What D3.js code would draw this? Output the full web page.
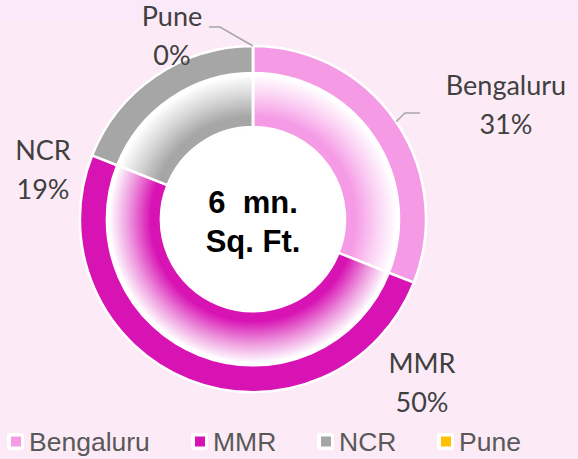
<!DOCTYPE html>
<meta charset="utf-8">
<style>
  body { margin: 0; background: #fcebf6; }
  svg { display: block; }
  .lbl { font: 27px Lato, "Open Sans", sans-serif; fill: #404040; text-anchor: middle; }
  .legend text { font: 26.5px "Liberation Sans", Arial, sans-serif; fill: #595959; }
  .center { font: bold 31px "Liberation Sans", Arial, sans-serif; fill: #000; text-anchor: middle; white-space: pre; }
</style>
<svg width="578" height="459"></svg>
<script src="https://cdn.jsdelivr.net/npm/d3@7"></script>
<script>
  // chart data
  var cities = ["Bengaluru", "MMR", "NCR", "Pune"];
  var shares = [31, 50, 19, 0];
  var colors = ["#f59be6", "#d813b4", "#a6a6a6", "#ffc000"];
  var centerLines = ["6  mn.", "Sq. Ft."];

  var svg = d3.select("svg"),
    width = +svg.attr("width"),
    height = +svg.attr("height");

  svg.append("rect").attr("width", width).attr("height", height).attr("fill", "#fcebf6");
  svg.append("rect").attr("width", width).attr("height", 20).attr("fill", "#fae9f8");

  var cx = 253, cy = 219;
  var outerR = 173, outerIn = 146, innerR = 144, innerIn = 92;

  var data = cities.map(function (c, i) { return { name: c, value: shares[i], color: colors[i] }; });

  var pie = d3.pie().sort(null).value(function (d) { return d.value; });
  var arcs = pie(data);

  var color = d3.scaleOrdinal().domain(cities).range(colors);

  var defs = svg.append("defs");
  data.forEach(function (d, i) {
    var grad = defs.append("radialGradient")
      .attr("id", "grad" + i)
      .attr("gradientUnits", "userSpaceOnUse")
      .attr("cx", 0).attr("cy", 0).attr("r", innerR);
    grad.append("stop").attr("offset", innerIn / innerR).attr("stop-color", d.color);
    grad.append("stop").attr("offset", 0.71).attr("stop-color", d.color);
    grad.append("stop").attr("offset", 0.86).attr("stop-color", d3.interpolateRgb(d.color, "#fff")(0.55));
    grad.append("stop").attr("offset", 1).attr("stop-color", "#fff");
  });

  var g = svg.append("g").attr("transform", "translate(" + cx + "," + cy + ")");

  var outerArc = d3.arc().innerRadius(outerIn).outerRadius(outerR);
  var innerArc = d3.arc().innerRadius(innerIn).outerRadius(innerR);

  g.selectAll("path.outer").data(arcs).enter().append("path")
    .attr("class", "outer")
    .attr("d", outerArc)
    .attr("fill", function (d) { return color(d.data.name); })
    .attr("stroke", "#fff").attr("stroke-width", 2.5);

  g.selectAll("path.inner").data(arcs).enter().append("path")
    .attr("class", "inner")
    .attr("d", innerArc)
    .attr("fill", function (d, i) { return "url(#grad" + i + ")"; })
    .attr("stroke", "#fff").attr("stroke-width", 2.5);

  g.append("circle").attr("r", innerIn - 1).attr("fill", "#fff");

  // center text
  g.selectAll("text.center").data(centerLines).enter().append("text")
    .attr("class", "center")
    .attr("x", 0)
    .attr("y", function (d, i) { return -6 + i * 39; })
    .text(function (d) { return d; });

  // data labels (layout, relative to center)
  var labelPos = {
    "Bengaluru": { x: 253, y: -124, elbow: [152, -106], end: [167, -106] },
    "MMR": { x: 169, y: 154 },
    "NCR": { x: -210, y: -59 },
    "Pune": { x: -81, y: -193, elbow: [-33, -192], end: [-44, -192] }
  };

  arcs.forEach(function (a) {
    var p = labelPos[a.data.name];
    var t = g.append("text").attr("class", "lbl").attr("x", p.x).attr("y", p.y);
    t.append("tspan").attr("x", p.x).attr("dy", 0).text(a.data.name);
    t.append("tspan").attr("x", p.x).attr("dy", 39).text(a.data.value + "%");
    if (p.elbow) {
      var mid = (a.startAngle + a.endAngle) / 2;
      var start = [Math.sin(mid) * outerR, -Math.cos(mid) * outerR];
      g.append("path")
        .attr("d", d3.line()([start, p.elbow, p.end]))
        .attr("fill", "none")
        .attr("stroke", "#a6a6a6")
        .attr("stroke-width", 1.5);
    }
  });

  // legend
  var legendX = [7, 191, 317, 437];
  var lg = svg.append("g").attr("class", "legend");
  var item = lg.selectAll("g").data(data).enter().append("g")
    .attr("transform", function (d, i) { return "translate(" + legendX[i] + ",433)"; });
  item.append("rect").attr("width", 17).attr("height", 17).attr("rx", 3).attr("fill", "#fff");
  item.append("rect").attr("x", 4).attr("y", 3.5).attr("width", 10).attr("height", 10)
    .attr("fill", function (d) { return color(d.name); });
  item.append("text").attr("x", 22).attr("y", 18).text(function (d) { return d.name; });
</script>
